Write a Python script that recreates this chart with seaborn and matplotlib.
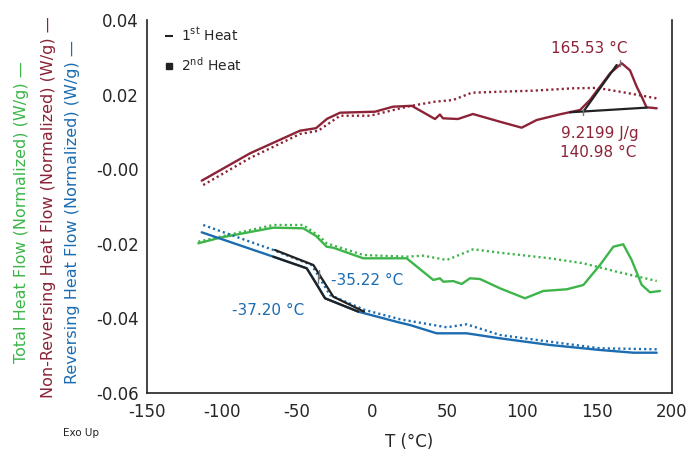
import numpy as np
import pandas as pd
import matplotlib
matplotlib.use("Agg")
import matplotlib.pyplot as plt
from matplotlib.lines import Line2D
import seaborn as sns

# ---- data ----
nr2_T = [-113.5, -81.3, -48, -37.3, -30, -21.3, 2, 14, 26.5, 42, 45.3, 47.3, 57.3, 67.3, 85.3, 99.8, 109.8, 125.3, 138.7, 145.3, 152, 158.7, 166.5, 172, 176.5, 179.8, 183, 189.8]
nr2_v = [-0.00308, 0.00426, 0.01032, 0.0110, 0.0135, 0.01515, 0.01542, 0.01676, 0.0170, 0.01346, 0.01466, 0.01365, 0.01346, 0.01480, 0.01273, 0.01113, 0.01319, 0.01472, 0.01587, 0.01855, 0.02212, 0.02571, 0.0284, 0.0265, 0.0221, 0.01944, 0.0166, 0.01633]
nr1_T = [-112.5, -81.3, -48, -35.8, -21.3, -1.3, 25.3, 42, 54, 66.5, 85.3, 107.3, 134, 150, 165, 189.8]
nr1_v = [-0.00424, 0.0030, 0.00944, 0.01032, 0.01434, 0.01434, 0.01694, 0.0181, 0.01855, 0.02051, 0.02078, 0.02105, 0.02169, 0.0218, 0.0208, 0.0190]

tot2_T = [-115.8, -101.3, -84.7, -65.8, -45.8, -37.3, -30.2, -25.8, -5.8, 23.1, 40.9, 45.3, 47.5, 54.2, 59.8, 65.3, 72, 85.3, 102, 114.2, 129.8, 140.9, 152, 160.9, 167.5, 173.1, 179.8, 185.3, 192]
tot2_v = [-0.01987, -0.01836, -0.0171, -0.01568, -0.01584, -0.0179, -0.02078, -0.02105, -0.02389, -0.02389, -0.0297, -0.02925, -0.03016, -0.0300, -0.03078, -0.02925, -0.02944, -0.03193, -0.03461, -0.03265, -0.0322, -0.03105, -0.02568, -0.02078, -0.02013, -0.02434, -0.0310, -0.0330, -0.03265]
tot1_T = [-115.8, -99.1, -65.8, -45.8, -34.7, -30.2, -5.8, 23.1, 34.2, 49.8, 67.5, 85.3, 118.7, 140.9, 163.1, 189.8]
tot1_v = [-0.01944, -0.01791, -0.01496, -0.01496, -0.0181, -0.01987, -0.0230, -0.02346, -0.02319, -0.02434, -0.02147, -0.02239, -0.02389, -0.02523, -0.02748, -0.02997]

rev2_T = [-113.5, -65.8, -43.5, -37.3, -31.3, -9.1, 18.7, 25.3, 43.1, 63.1, 85.3, 118.7, 152, 174.2, 189.8]
rev2_v = [-0.01692, -0.02346, -0.02657, -0.0305, -0.03461, -0.0382, -0.04115, -0.04177, -0.0440, -0.0440, -0.04534, -0.04713, -0.04847, -0.0492, -0.0492]
rev1_T = [-112.5, -65.8, -40.2, -28, -4.7, 18.7, 49.8, 63.1, 85.3, 118.7, 152, 189.8]
rev1_v = [-0.01496, -0.02166, -0.02568, -0.03373, -0.03775, -0.04024, -0.04239, -0.04158, -0.04445, -0.04625, -0.04802, -0.04828]

# analysis construction lines
tg2_T = [-65.8, -43.5, -31.3, -9.1]
tg2_v = [-0.02346, -0.02657, -0.03461, -0.0382]
tg1_T = [-64.7, -39.1, -25.8, -5.3]
tg1_v = [-0.02166, -0.02568, -0.03418, -0.0382]
base_T = [132, 183.1]
base_v = [0.01526, 0.01651]
tan_T = [140.9, 163.1]
tan_v = [0.01542, 0.02794]

x_ticks = [-150, -100, -50, 0, 50, 100, 150, 200]
y_ticks = [-0.06, -0.04, -0.02, 0.00, 0.02, 0.04]
y_ticklabels = ["-0.06", "-0.04", "-0.02", "-0.00", "0.02", "0.04"]

RED = "#8c2336"
GREEN = "#3db54a"
BLUE = "#1b6cb1"

sns.set_style("white")
plt.rcParams['font.family'] = ['DejaVu Sans']

fig = plt.figure(figsize=(6.91, 4.55), dpi=100)
ax = fig.add_axes([0.2127, 0.1363, 0.7598, 0.8197])

dot = (0, (0.9, 1.3))
lw = 1.7

def draw(T, v, color, ls):
    df = pd.DataFrame({"T": T, "v": v})
    sns.lineplot(data=df, x="T", y="v", ax=ax, color=color, linewidth=lw,
                 linestyle=ls, sort=False, estimator=None)

draw(nr1_T, nr1_v, RED, dot)
draw(nr2_T, nr2_v, RED, "-")
draw(tot1_T, tot1_v, GREEN, dot)
draw(tot2_T, tot2_v, GREEN, "-")
draw(rev1_T, rev1_v, BLUE, dot)
draw(rev2_T, rev2_v, BLUE, "-")

for T, v in [(tg2_T, tg2_v), (tg1_T, tg1_v), (base_T, base_v), (tan_T, tan_v)]:
    ax.plot(T, v, color="#222222", linewidth=1.6)

# small tick marks
ax.plot([140.98, 140.98], [0.0146, 0.0162], color="#777777", lw=1)
ax.plot([165.53, 165.53], [0.0276, 0.0292], color="#777777", lw=1)
ax.plot([-36.2, -36.2], [-0.0285, -0.0305], color="#777777", lw=1)
ax.plot([-35.2, -35.2], [-0.0270, -0.0290], color="#777777", lw=1)

ax.text(145, 0.0323, "165.53 °C", color=RED, fontsize=11, ha="center", va="center")
ax.text(152, 0.0097, "9.2199 J/g", color=RED, fontsize=11, ha="center", va="center")
ax.text(150.5, 0.0046, "140.98 °C", color=RED, fontsize=11, ha="center", va="center")
ax.text(-27, -0.0299, "-35.22 °C", color=BLUE, fontsize=11, ha="left", va="center")
ax.text(-93.5, -0.0378, "-37.20 °C", color=BLUE, fontsize=11, ha="left", va="center")

ax.set_xlim(-150, 200)
ax.set_ylim(-0.06, 0.04)
ax.set_xticks(x_ticks)
ax.set_xticklabels([str(t) for t in x_ticks])
ax.set_yticks(y_ticks)
ax.set_yticklabels(y_ticklabels)
ax.tick_params(axis="x", direction="in", length=3, width=1, labelsize=12, pad=7, color="#222222")
ax.tick_params(axis="y", direction="out", length=4, width=1, labelsize=12, pad=2, color="#222222")
ax.set_xlabel("T (°C)", fontsize=12, labelpad=9)
ax.set_ylabel("")

for s in ["left", "bottom", "right"]:
    ax.spines[s].set_visible(True)
    ax.spines[s].set_color("#222222")
    ax.spines[s].set_linewidth(1.2)
ax.spines["top"].set_visible(False)

handles = [Line2D([], [], color="#222222", marker="_", linestyle="none", markersize=6, markeredgewidth=1.5),
           Line2D([], [], color="#222222", marker="s", linestyle="none", markersize=5)]
ax.legend(handles, ["1$^{\\mathrm{st}}$ Heat", "2$^{\\mathrm{nd}}$ Heat"], loc="upper left",
          frameon=False, fontsize=10, handletextpad=0.4, borderaxespad=0.3,
          labelspacing=0.9, handlelength=1.0, bbox_to_anchor=(0.01, 1.01))

fig.text(0.031, 0.534, "Total Heat Flow (Normalized) (W/g) —", color=GREEN, rotation=90,
         fontsize=11.5, ha="center", va="center")
fig.text(0.0695, 0.545, "Non-Reversing Heat Flow (Normalized) (W/g) —", color=RED, rotation=90,
         fontsize=11.5, ha="center", va="center")
fig.text(0.105, 0.534, "Reversing Heat Flow (Normalized) (W/g) —", color=BLUE, rotation=90,
         fontsize=11.5, ha="center", va="center")
fig.text(0.117, 0.048, "Exo Up", fontsize=7.5, color="#222222", ha="center", va="center")

fig.savefig("out.png", dpi=100)
